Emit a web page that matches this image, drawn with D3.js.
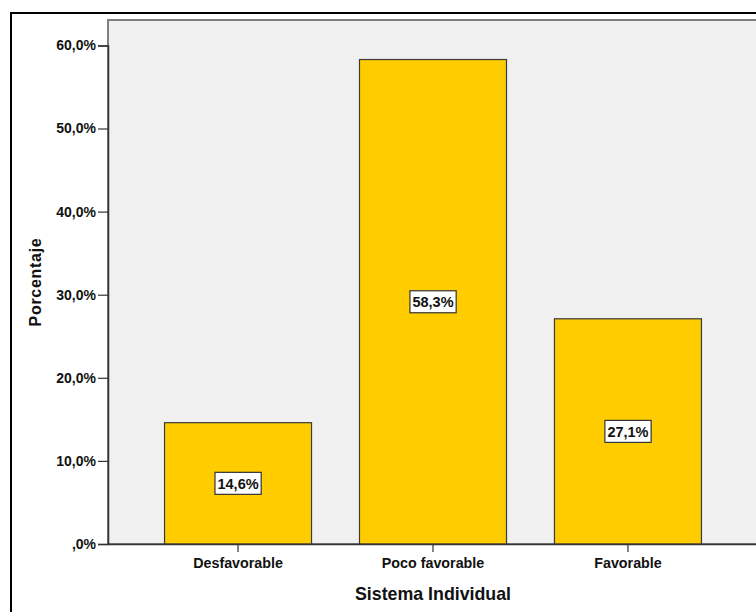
<!DOCTYPE html>
<html>
<head>
<meta charset="utf-8">
<script src="https://cdn.jsdelivr.net/npm/d3@7/dist/d3.min.js"></script>
<style>
  html, body { margin: 0; padding: 0; background: #ffffff; }
  svg { display: block; }
  text { font-family: "Liberation Sans", Arial, sans-serif; font-weight: bold; fill: #111; }
</style>
</head>
<body>
<svg id="chart" width="756" height="612"></svg>
<script>
// Categories and percentages for "Sistema Individual"
const categories = ["Desfavorable", "Poco favorable", "Favorable"];
const percentages = [14.6, 58.3, 27.1];
const yTicks = [0, 10, 20, 30, 40, 50, 60];

const fmt = v => (v === 0 ? "" : d3.format(".1f")(v).replace(".", ",")) + (v === 0 ? ",0%" : "%");

const svg = d3.select("#chart");

// Plot frame
const plot = { left: 108, right: 758, top: 20, bottom: 544 };

// Outer chart border
svg.append("rect")
  .attr("x", 11).attr("y", 13)
  .attr("width", 760).attr("height", 620)
  .attr("fill", "none").attr("stroke", "#000").attr("stroke-width", 2);

// Plot background
svg.append("rect")
  .attr("x", plot.left).attr("y", plot.top)
  .attr("width", plot.right - plot.left).attr("height", plot.bottom - plot.top)
  .attr("fill", "#f0f0f0").attr("stroke", "#7f7f7f").attr("stroke-width", 2);

const x = d3.scaleBand()
  .domain(categories)
  .range([plot.left, plot.right])
  .paddingInner(0.246)
  .paddingOuter(0.29);

const y = d3.scaleLinear().domain([0, 60]).range([plot.bottom, 45.4]);

// Bars
svg.append("g").selectAll("rect")
  .data(categories)
  .join("rect")
  .attr("x", d => x(d))
  .attr("y", (d, i) => y(percentages[i]))
  .attr("width", x.bandwidth())
  .attr("height", (d, i) => y(0) - y(percentages[i]))
  .attr("fill", "#ffcc00")
  .attr("stroke", "#3a3a3a")
  .attr("stroke-width", 1.2);

// Y axis
const yAxis = svg.append("g")
  .attr("transform", `translate(${plot.left},0)`)
  .call(d3.axisLeft(y).tickValues(yTicks).tickFormat(fmt).tickSize(10).tickPadding(2));
yAxis.select(".domain").attr("stroke", "#333").attr("stroke-width", 1.5);
yAxis.selectAll(".tick line").attr("stroke", "#333").attr("stroke-width", 1.2);
yAxis.selectAll(".tick text")
  .attr("font-size", 14).attr("font-family", "Liberation Sans, Arial, sans-serif")
  .attr("font-weight", "bold").attr("fill", "#111");

// X axis
const xAxis = svg.append("g")
  .attr("transform", `translate(0,${plot.bottom})`)
  .call(d3.axisBottom(x).tickSize(8).tickPadding(6).tickSizeOuter(0));
xAxis.select(".domain").attr("stroke", "#333").attr("stroke-width", 1.5);
xAxis.selectAll(".tick line").attr("stroke", "#333").attr("stroke-width", 1.2);
xAxis.selectAll(".tick text")
  .attr("font-size", 14.3).attr("font-family", "Liberation Sans, Arial, sans-serif")
  .attr("font-weight", "bold").attr("fill", "#111");

// Value labels inside bars
const labels = svg.append("g").selectAll("g")
  .data(categories)
  .join("g")
  .attr("transform", (d, i) => `translate(${x(d) + x.bandwidth() / 2},${y(percentages[i] / 2)})`);

labels.append("text")
  .attr("text-anchor", "middle")
  .attr("dy", "0.36em")
  .attr("font-size", 14.5)
  .text((d, i) => fmt(percentages[i]))
  .each(function () {
    const b = this.getBBox();
    d3.select(this.parentNode).insert("rect", "text")
      .attr("x", b.x - 2.5).attr("y", -11)
      .attr("width", b.width + 5).attr("height", 22)
      .attr("fill", "#fff").attr("stroke", "#333").attr("stroke-width", 1.2);
  });

// Axis titles
svg.append("text")
  .attr("x", x("Poco favorable") + x.bandwidth() / 2)
  .attr("y", 600)
  .attr("text-anchor", "middle")
  .attr("font-size", 17.8)
  .text("Sistema Individual");

svg.append("text")
  .attr("transform", "translate(41,282) rotate(-90)")
  .attr("text-anchor", "middle")
  .attr("font-size", 16)
  .attr("letter-spacing", 0.7)
  .text("Porcentaje");
</script>
</body>
</html>
